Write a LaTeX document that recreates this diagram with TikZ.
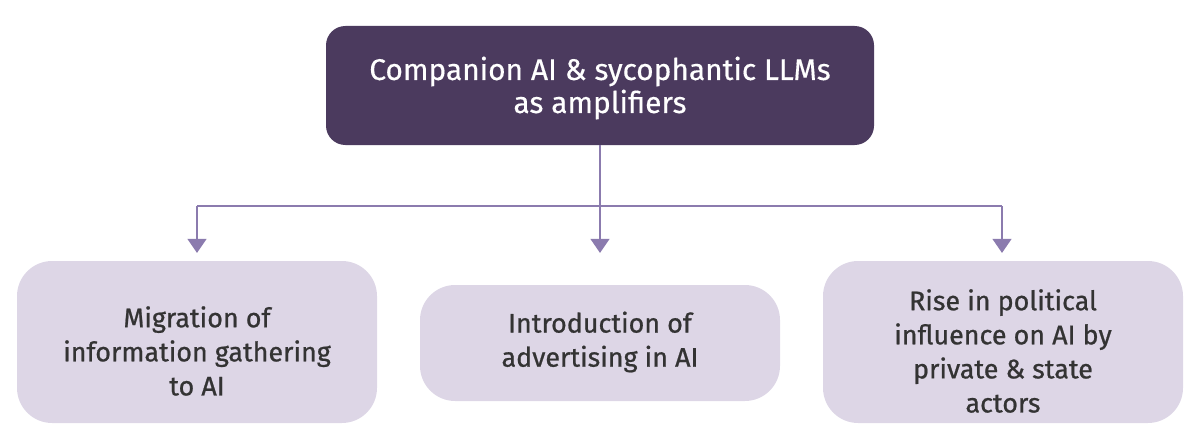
\documentclass[tikz,border=0pt]{standalone}
\usepackage{fontspec}
\setmainfont{Fira Sans}
\newfontfamily\medfont[FakeBold=0.8]{Fira Sans}
\newfontfamily\topfont[FakeBold=0.4]{Fira Sans}
\usetikzlibrary{arrows.meta}
\definecolor{topfill}{HTML}{4B3A5E}
\definecolor{subfill}{HTML}{DDD6E6}
\definecolor{linecol}{HTML}{8B7BAE}
\definecolor{txtdark}{HTML}{333333}
\tikzset{
  topbox/.style={draw=none, fill=topfill, rounded corners=11pt, minimum width=548*0.02cm, minimum height=119*0.02cm, inner sep=0pt},
  toptext/.style={text=white, align=center, font=\topfont\fontsize{17}{18.8}\selectfont, inner sep=0pt},
  subbox/.style={draw=none, fill=subfill, rounded corners=20pt, minimum width=360*0.02cm, inner sep=0pt},
  subtext/.style={text=txtdark, align=center, font=\medfont\fontsize{15.3}{19.4}\selectfont, inner sep=0pt},
  conn/.style={draw=linecol, line width=1.6pt, -{Triangle[width=10.5pt,length=8pt]}},
  plain/.style={draw=linecol, line width=1.6pt}
}
\begin{document}
\begin{tikzpicture}[x=0.02cm,y=-0.02cm]
\useasboundingbox (0,0) rectangle (1200,429);
\node[topbox] (top) at (600,85.5) {};
\node[toptext] (toptxt) at (600,88) {Companion AI \& sycophantic LLMs\\as amplifiers};
\node[subbox, minimum height=162*0.02cm] (a) at (197,342) {};
\node[subtext] (atxt) at (197,351) {Migration of\\information gathering\\to AI};
\node[subbox, minimum height=116*0.02cm] (b) at (600,343) {};
\node[subtext] (btxt) at (600,342) {Introduction of\\advertising in AI};
\node[subbox, minimum height=162*0.02cm] (c) at (1003,342) {};
\node[subtext] (ctxt) at (1003,351) {Rise in political\\influence on AI by\\private \& state\\actors};
\coordinate (j) at (600,206);
\coordinate (ja) at (197,206);
\coordinate (jc) at (1002,206);
\coordinate (ea) at (197,253);
\coordinate (eb) at (600,253);
\coordinate (ec) at (1002,253);
\draw[plain] (top.south) -- (j);
\draw[plain] (ja) -- (jc);
\draw[conn] (ja) -- (ea);
\draw[conn] (j) -- (eb);
\draw[conn] (jc) -- (ec);
\end{tikzpicture}
\end{document}
